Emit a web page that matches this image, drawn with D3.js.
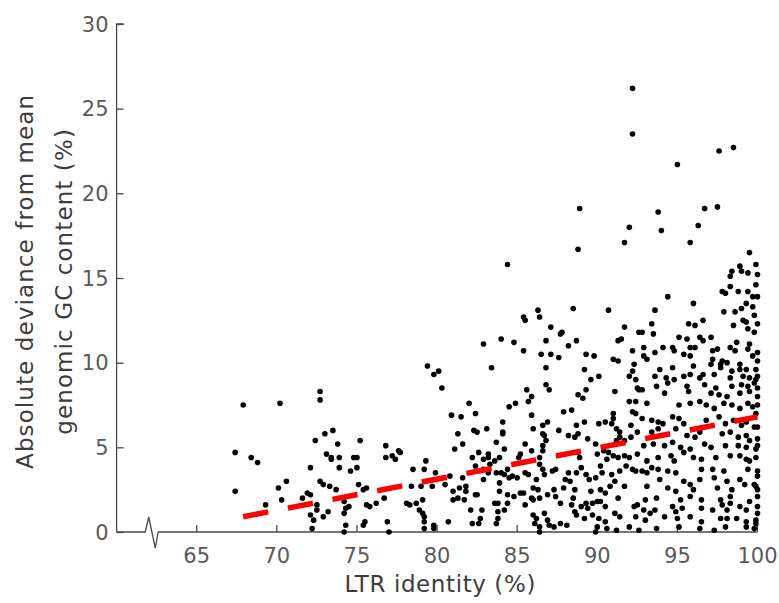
<!DOCTYPE html>
<html>
<head>
<meta charset="utf-8">
<script src="https://cdn.jsdelivr.net/npm/d3@7"></script>
<style>
  html, body { margin: 0; padding: 0; background: #fff; }
  text { font-family: "DejaVu Sans", sans-serif; }
</style>
</head>
<body>
<div id="chart"></div>
<script>
"use strict";

//  Data: [LTR identity (%), absolute deviance from mean genomic GC (%)]
const lowIdentity = [
	[67.4,4.7],[67.4,2.4],[67.9,7.5],[68.4,4.4],[68.8,4.1],[70.2,7.6],[70.1,2.6],[70.3,1.9],[70.6,3.0],[69.3,1.6],
	[72.1,3.8],[72.4,5.4],[72.7,8.3],[72.7,7.8],[73.0,5.8],[73.5,6.0],[73.1,4.6],[73.4,4.4],[73.4,4.3],[73.8,5.2],
	[73.9,4.4],[73.9,3.8],[71.6,2.0],[71.9,2.3],[72.1,2.2],[72.7,3.0],[72.9,2.8],[73.3,2.7],[73.7,2.5],[72.5,1.6],
	[72.1,1.0],[72.3,0.7],[72.5,1.3],[72.9,0.9],[73.2,1.2],[72.2,0.2],[74.2,1.8],[74.3,1.4],[74.5,1.5],[74.2,1.1],
	[74.3,0.4],[74.2,0.0],[74.8,4.4],[75.0,4.4],[75.2,5.4],[75.0,3.8],[74.6,3.6],[75.1,2.8],[75.4,2.5],[75.6,2.6],
	[75.6,1.6],[75.8,1.5],[75.5,0.6],[75.4,0.4],[76.2,1.7],[76.8,5.1],[76.8,4.4],[77.2,4.5],[77.4,4.3],[77.6,4.8],
	[77.7,4.7],[76.7,2.0],[76.9,0.6],[77.0,0.0],[78.5,3.7],[78.4,2.7],[78.1,1.7],[78.3,1.6],[78.7,1.7],[78.9,1.3],
	[79.0,2.7]
];

const midIdentity = [
	[84.4,15.8],[79.4,9.8],[79.8,9.3],[80.1,9.5],[80.3,8.5],[82.9,11.1],[84.0,11.4],[84.8,11.2],[83.4,9.7],
	[82.0,7.6],[84.5,7.4],[84.9,7.6],[80.9,6.9],[81.5,6.8],[82.4,7.0],[81.3,5.8],[81.6,5.2],[82.3,6.0],[82.5,5.9],
	[83.1,6.1],[84.1,6.5],[84.1,5.9],[84.1,5.8],[83.7,5.3],[81.1,4.9],[84.2,4.9],[79.3,4.2],[79.2,3.7],[79.9,3.5],
	[82.2,4.4],[82.6,4.7],[82.9,4.3],[83.2,4.6],[83.2,4.4],[83.3,4.0],[83.6,4.2],[83.9,4.4],[82.4,3.9],[82.9,3.7],
	[83.2,3.5],[82.9,3.1],[83.7,3.5],[84.0,3.5],[84.4,3.7],[84.2,3.4],[84.5,3.2],[84.7,3.3],[85.0,3.2],[85.1,4.4],
	[85.2,4.6],[79.7,2.7],[80.5,2.8],[80.8,3.3],[81.6,3.2],[81.0,2.4],[81.4,2.6],[81.8,2.7],[81.8,2.4],[83.9,2.9],
	[83.9,2.4],[84.4,2.2],[84.8,2.1],[85.2,2.3],[79.1,1.9],[81.0,1.9],[81.3,2.0],[81.7,1.9],[82.4,2.2],[82.5,2.2],
	[83.6,1.7],[83.8,1.7],[84.4,1.7],[79.1,1.1],[79.2,0.9],[79.2,0.6],[79.2,0.2],[79.8,0.4],[79.8,0.2],[80.7,0.6],
	[82.1,1.3],[82.8,1.3],[83.8,1.2],[84.2,1.3],[82.7,0.8],[82.6,0.5],[82.2,0.5],[83.8,0.8],[83.7,0.5]
];

const highIdentity = [
	[88.8,16.7],[88.9,19.1],[92.2,26.2],[92.2,23.5],[92.0,18.0],[91.7,17.1],
	[86.3,13.1],[86.4,12.7],[85.4,12.7],[85.5,12.5],[88.5,13.2],[90.7,13.1],[87.1,12.1],[87.8,11.8],[87.7,11.7],
	[91.7,12.1],[92.6,11.8],[86.8,11.3],[88.7,11.3],[88.2,11.0],[91.3,11.3],[91.5,11.4],[85.4,10.7],[86.5,10.5],
	[87.1,10.5],[87.6,10.3],[89.3,10.5],[89.8,10.4],[91.0,10.2],[91.3,10.1],[92.2,10.7],[92.3,9.9],[86.8,9.7],
	[89.2,9.6],[89.6,9.0],[90.1,9.2],[92.2,9.5],[92.0,9.2],[92.4,9.0],[86.8,8.7],[87.0,8.4],[85.6,8.4],[89.3,8.4],
	[91.1,8.3],[92.5,8.5],[92.6,8.4],[88.8,8.1],
	[85.9,8.0],[85.7,7.7],[89.1,7.9],[92.0,7.7],[92.4,7.7],[87.9,7.1],[88.4,7.2],[85.9,6.9],[92.2,7.1],[92.4,7.0],
	[91.0,7.0],[86.0,6.1],[86.6,6.3],[86.9,6.5],[88.7,6.3],[89.2,6.5],[87.6,6.0],[90.1,6.4],[90.5,6.5],[90.9,6.4],
	[91.0,6.7],[91.2,6.1],[91.4,5.9],[92.1,6.3],[92.5,5.9],[86.6,5.8],[86.7,5.7],[88.2,5.7],[88.6,5.6],[88.8,5.8],
	[89.4,5.5],[89.9,5.2],[85.5,5.2],[85.9,4.8],[86.6,5.1],[86.8,5.4],[91.4,5.6],[91.2,5.4],[91.7,5.4],[92.1,5.6],
	[86.6,4.8],[86.4,4.4],[88.8,4.7],[88.9,4.4],[90.0,4.6],[90.4,4.8],[90.7,4.7],[91.0,4.5],[91.3,4.4],[91.7,4.5],
	[92.0,4.4],[92.5,4.6],[90.6,4.3],[86.4,4.0],[86.6,3.7],[87.2,3.6],[87.4,3.7],[88.2,3.5],[88.7,3.5],[89.0,3.8],
	[89.3,3.4],[89.5,3.1],[90.2,3.9],[90.3,3.5],[90.9,3.4],[91.4,3.6],[91.8,3.9],[92.2,3.7],[92.4,3.6],[85.5,3.5],
	[85.7,3.4],[86.2,3.1],[86.7,3.4],[88.0,3.1],[88.3,3.0],[89.9,3.2],[90.8,2.7],[91.1,3.0],[91.7,2.7],[86.0,2.6],
	[86.3,2.5],[87.3,2.5],[87.9,2.6],[88.6,2.5],[89.6,2.4],[90.2,2.5],[90.5,2.3],[85.4,2.3],[85.9,2.0],[86.0,1.9],
	[86.4,2.0],[86.9,2.2],[87.4,2.1],[88.5,2.0],[89.3,1.7],[89.7,1.7],[90.0,1.8],[90.2,1.8],[91.3,2.0],[85.5,1.6],
	[87.7,1.7],[88.4,1.6],[89.0,1.5],[89.4,1.4],[90.5,1.5],[92.3,1.5],[92.5,1.6],[86.0,1.0],[86.2,0.8],[86.7,1.1],
	[86.9,0.7],[88.6,1.2],[88.7,1.0],[89.2,0.8],[89.7,1.0],[90.1,0.8],[90.5,0.6],[91.1,1.1],[91.4,0.9],[92.4,0.9],
	[86.1,0.5],[86.4,0.3],[87.0,0.4],[87.3,0.3],[87.7,0.5],[88.1,0.4],[90.0,0.3],[90.6,0.2],[91.2,0.1],[92.0,0.3],
	[86.4,0.0],[89.9,0.0],[92.6,0.1]
];

const topIdentity = [
	[95.0,21.7],[97.6,22.5],[98.5,22.7],[93.8,18.9],[94.0,17.8],[96.3,18.1],[96.7,19.1],[97.5,19.2],[95.8,17.1],
	[99.5,16.5],[99.9,15.8],[98.9,15.7],[98.4,15.4],[98.3,15.1],[99.0,15.4],[99.4,15.3],[98.3,14.5],[97.8,14.2],
	[98.0,14.1],[98.8,14.2],[99.4,14.2],[99.7,13.9],[100.0,13.9],[94.4,13.9],[96.0,13.5],[99.3,13.5],[99.0,13.2],
	[99.7,13.3],[93.6,13.1],[97.9,13.0],[98.6,13.0],[99.1,12.5],[99.3,12.4],[100.0,12.3],[98.5,12.2],[99.4,12.0],
	[99.8,11.8],[93.4,12.3],[95.7,12.3],[96.1,12.2],[96.6,12.5],[92.8,11.8],[93.5,11.7],[95.1,11.5],[95.6,11.4],
	[96.4,11.5],[96.6,11.3],[97.1,11.5],[98.7,11.2],[99.5,11.1],[92.9,10.9],[94.1,10.9],[94.7,10.9],[95.8,10.9],
	[96.1,10.9],[98.3,10.9],[99.4,10.8],[93.6,10.6],[94.8,10.7],[95.4,10.5],[95.8,10.4],[97.2,10.7],[97.5,10.8],
	[98.6,10.7],[100.0,10.6],[92.9,10.4],[93.1,10.2],[97.2,10.2],[97.8,10.1],[98.1,10.0],[98.9,9.9],[100.0,10.1],
	[93.9,9.6],[94.7,9.7],[96.0,9.8],[97.1,9.9],[97.7,9.7],[97.7,9.9],[98.4,9.5],[98.9,9.6],[99.3,9.6],[99.9,9.6],
	[93.6,9.2],[94.3,9.1],[94.8,9.0],[95.4,9.2],[95.8,9.3],[96.4,9.1],[96.6,9.3],[97.3,9.3],[98.3,9.1],[99.1,9.2],
	[99.5,9.1],[100.0,9.2],[93.7,8.6],[94.4,8.8],[95.6,8.6],[96.7,8.7],[97.4,8.5],[98.4,8.6],[99.0,8.7],[99.4,8.6],
	[99.8,8.8],[92.8,8.4]
];

const nearIdentity = [
	[94.2,8.2],[95.7,8.3],[97.1,8.2],[97.6,8.1],[98.1,8.0],[98.9,8.2],[99.5,8.3],[100.0,8.0],[93.1,7.6],[95.1,7.5],
	[95.8,7.6],[96.4,7.7],[96.8,7.5],[97.3,7.3],[97.9,7.6],[98.4,7.5],[98.9,7.3],[99.4,7.6],[99.7,7.4],[100.0,7.5],
	[92.8,6.7],[93.4,6.6],[93.8,6.5],[94.1,6.4],[94.7,6.8],[95.1,6.7],[95.4,6.4],[96.8,6.6],[97.6,6.8],[98.0,6.4],
	[98.5,6.6],[99.0,6.3],[99.3,6.5],[99.8,6.2],[93.4,5.9],[93.8,6.1],[94.9,6.1],[95.6,5.7],[96.1,5.6],[96.4,5.9],
	[97.8,5.8],[98.3,5.9],[98.8,5.6],[99.3,5.7],[99.5,5.4],[100.0,5.5],[92.9,5.1],[93.5,5.2],[94.2,5.1],[94.7,5.3],
	[95.2,5.0],[95.4,4.7],[95.8,4.9],[96.7,5.2],[97.1,5.0],[98.0,5.1],[98.8,5.1],[99.3,5.0],[99.9,4.9],[93.8,4.4],
	[94.6,4.5],[94.8,4.2],[96.0,4.4],[96.5,4.3],[97.4,4.4],[98.3,4.5],[98.9,4.5],[99.3,4.3],[99.5,4.2],[93.1,4.2],
	[93.4,3.8],[92.8,3.6],[93.1,3.5],[93.8,3.7],[94.4,3.6],[94.9,3.5],[96.5,3.7],[97.2,3.7],[97.9,3.6],[99.4,3.7],
	[100.0,3.6],[93.9,3.1],[95.4,3.0],[95.8,2.8],[96.4,3.1],[97.3,3.2],[98.1,3.0],[98.9,3.1],[99.2,2.8],[99.8,2.8],
	[93.1,2.7],[94.4,2.6],[94.9,2.4],[96.0,2.5],[97.5,2.6],[98.4,2.5],[100.0,2.5],[93.0,1.9],[93.7,2.0],[95.2,1.9],
	[95.8,2.1],[96.5,1.9],[97.7,1.9],[98.3,2.1],[98.3,1.7],[99.5,1.8],[100.0,2.1],[92.9,1.3],[93.3,1.1],[93.6,1.3],
	[94.7,1.5],[94.9,1.2],[95.3,1.4],[96.5,1.4],[97.2,1.3],[97.8,1.6],[98.1,1.3],[98.9,1.5],[99.3,1.3],[100.0,1.1],
	[93.0,0.7],[94.2,0.9],[95.0,0.8],[95.8,0.9],[96.5,0.6],[97.7,0.8],[98.1,0.8],[98.7,0.8],[99.3,0.6],[99.9,0.5],
	[93.7,0.2],[95.1,0.3],[96.4,0.2],[97.3,0.1],[98.0,0.3],[99.3,0.3],[99.8,0.2]
];

//  Column of points at full identity (right edge)
const fullIdentity = [
	[99.9,9.0],[100.0,8.5],[99.9,7.0],[100.0,6.2],[100.0,5.1],[99.9,4.4],[100.0,3.3],[99.9,2.7],[100.0,1.5],
	[99.9,0.7],[99.7,10.4],[99.8,12.8],[99.9,14.6],[100.0,15.2]
];

//  Linear fit (red dashed)
const fitIdentity = [67.9, 100];
const fitDeviance = [0.9, 6.8];

//  Axis ticks
const xTicks = [65, 70, 75, 80, 85, 90, 95, 100];
const yTicks = [0, 5, 10, 15, 20, 25, 30];
const axisBreakAt = 62.1;

const width = 779, height = 603;
const margin = { left: 116.6, right: 21.5, top: 24, bottom: 71 };

const svg = d3.select('#chart').append('svg')
	.attr('width', width)
	.attr('height', height);

const x = d3.scaleLinear().domain([60, 100]).range([margin.left, width - margin.right]);
const y = d3.scaleLinear().domain([0, 30]).range([height - margin.bottom, margin.top]);

const axisColor = '#4a4a4a', labelColor = '#595959';

//  Y axis
const yAxis = svg.append('g')
	.attr('transform', `translate(${x(60)},0)`)
	.call(d3.axisRight(y).tickValues(yTicks).tickSize(7).tickFormat(''));
yAxis.select('.domain').attr('d', `M0,${y(0)}V${y(30)}h7`).attr('stroke', axisColor).attr('stroke-width', 1.3);
yAxis.selectAll('.tick line').attr('stroke', axisColor).attr('stroke-width', 1.3);

svg.append('g').selectAll('text')
	.data(yTicks)
	.join('text')
	.attr('x', x(60) - 8)
	.attr('y', d => y(d) + 7.5)
	.attr('text-anchor', 'end')
	.attr('font-size', 21)
	.attr('fill', labelColor)
	.text(d => d);

//  X axis with break symbol
const bx = x(axisBreakAt), by = y(0);
svg.append('path')
	.attr('d', `M${x(60)},${by}H${bx - 5}L${bx - 1.5},${by - 15}L${bx + 5},${by + 16}L${bx + 8},${by}H${x(100)}`)
	.attr('fill', 'none')
	.attr('stroke', axisColor)
	.attr('stroke-width', 1.3);

svg.append('g').selectAll('line')
	.data(xTicks)
	.join('line')
	.attr('x1', d => x(d)).attr('x2', d => x(d))
	.attr('y1', by).attr('y2', by - 7)
	.attr('stroke', axisColor)
	.attr('stroke-width', 1.3);

svg.append('g').selectAll('text')
	.data(xTicks)
	.join('text')
	.attr('x', d => x(d))
	.attr('y', by + 31)
	.attr('text-anchor', 'middle')
	.attr('font-size', 21)
	.attr('fill', labelColor)
	.text(d => d);

//  Axis titles
svg.append('text')
	.attr('x', x(80.2))
	.attr('y', 592)
	.attr('text-anchor', 'middle')
	.attr('font-size', 23)
	.attr('letter-spacing', 0.6)
	.attr('fill', '#3d3d3d')
	.text('LTR identity (%)');

const yTitle = svg.append('text')
	.attr('transform', `translate(0,${y(14.8)}) rotate(-90)`)
	.attr('text-anchor', 'middle')
	.attr('font-size', 23)
	.attr('letter-spacing', 1.1)
	.attr('fill', '#3d3d3d');
yTitle.append('tspan').attr('x', 0).attr('y', 33).text('Absolute deviance from mean');
yTitle.append('tspan').attr('x', 0).attr('y', 72).text('genomic GC content (%)');

//  Points
const allPoints = [].concat(lowIdentity, midIdentity, highIdentity, topIdentity, nearIdentity, fullIdentity);
svg.append('g').selectAll('circle')
	.data(allPoints)
	.join('circle')
	.attr('cx', d => x(d[0]))
	.attr('cy', d => y(d[1]))
	.attr('r', 2.8)
	.attr('fill', '#000');

//  Trend line
svg.append('line')
	.attr('x1', x(fitIdentity[0])).attr('y1', y(fitDeviance[0]))
	.attr('x2', x(fitIdentity[1])).attr('y2', y(fitDeviance[1]))
	.attr('stroke', '#ff0000')
	.attr('stroke-width', 5.5)
	.attr('stroke-dasharray', '25.5,20');
</script>
</body>
</html>
